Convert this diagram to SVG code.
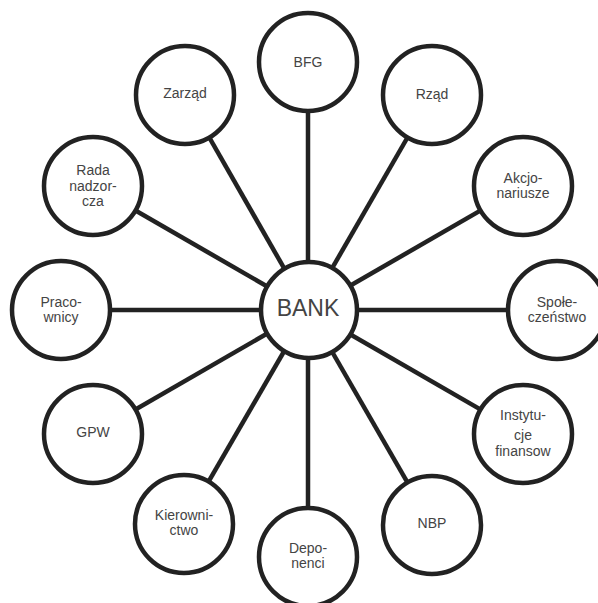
<svg xmlns="http://www.w3.org/2000/svg" width="598" height="603" viewBox="0 0 598 603">
<style>
.c{fill:#fff;stroke:#222;stroke-width:4.5}
.t{font-family:"Liberation Sans",Arial,sans-serif;font-size:14px;fill:#444;text-anchor:middle}
.b{font-size:23px}
.l{stroke:#222;stroke-width:4.5}
</style>
<rect width="598" height="603" fill="#fff"/>
<g id="connectors">
<line class="l" x1="308" y1="310" x2="308" y2="62"/>
<line class="l" x1="308" y1="310" x2="432" y2="95"/>
<line class="l" x1="308" y1="310" x2="523" y2="186"/>
<line class="l" x1="308" y1="310" x2="557" y2="310"/>
<line class="l" x1="308" y1="310" x2="523" y2="434"/>
<line class="l" x1="308" y1="310" x2="432" y2="525"/>
<line class="l" x1="308" y1="310" x2="308" y2="557"/>
<line class="l" x1="308" y1="310" x2="184" y2="524"/>
<line class="l" x1="308" y1="310" x2="93" y2="434"/>
<line class="l" x1="308" y1="310" x2="61" y2="310"/>
<line class="l" x1="308" y1="310" x2="93" y2="186"/>
<line class="l" x1="308" y1="310" x2="185" y2="95"/>
</g>
<g id="bank"><circle class="c" cx="309" cy="310" r="48"/><text class="t b" x="308" y="316">BANK</text></g>
<g id="bfg"><circle class="c" cx="308" cy="62" r="49"/><text class="t" x="308" y="67">BFG</text></g>
<g id="rzad"><circle class="c" cx="432" cy="95" r="49"/><text class="t" x="432" y="99">Rząd</text></g>
<g id="akcjonariusze"><circle class="c" cx="523" cy="186" r="49"/><text class="t" x="523" y="183">Akcjo-</text><text class="t" x="523" y="198">nariusze</text></g>
<g id="spoleczenstwo"><circle class="c" cx="557" cy="310" r="49"/><text class="t" x="557" y="307">Społe-</text><text class="t" x="557" y="322">czeństwo</text></g>
<g id="instytucje"><circle class="c" cx="523" cy="434" r="49"/><text class="t" x="523" y="420">Instytu-</text><text class="t" x="523" y="440">cje</text><text class="t" x="523" y="456">finansow</text></g>
<g id="nbp"><circle class="c" cx="432" cy="525" r="49"/><text class="t" x="432" y="528">NBP</text></g>
<g id="deponenci"><circle class="c" cx="308" cy="557" r="49"/><text class="t" x="308" y="553">Depo-</text><text class="t" x="308" y="568">nenci</text></g>
<g id="kierownictwo"><circle class="c" cx="184" cy="524" r="49"/><text class="t" x="184" y="520">Kierowni-</text><text class="t" x="184" y="535">ctwo</text></g>
<g id="gpw"><circle class="c" cx="93" cy="434" r="49"/><text class="t" x="93" y="437">GPW</text></g>
<g id="pracownicy"><circle class="c" cx="61" cy="310" r="49"/><text class="t" x="61" y="307">Praco-</text><text class="t" x="61" y="322">wnicy</text></g>
<g id="rada"><circle class="c" cx="93" cy="186" r="49"/><text class="t" x="93" y="175">Rada</text><text class="t" x="93" y="191">nadzor-</text><text class="t" x="93" y="206">cza</text></g>
<g id="zarzad"><circle class="c" cx="185" cy="95" r="49"/><text class="t" x="185" y="98">Zarząd</text></g>
</svg>
